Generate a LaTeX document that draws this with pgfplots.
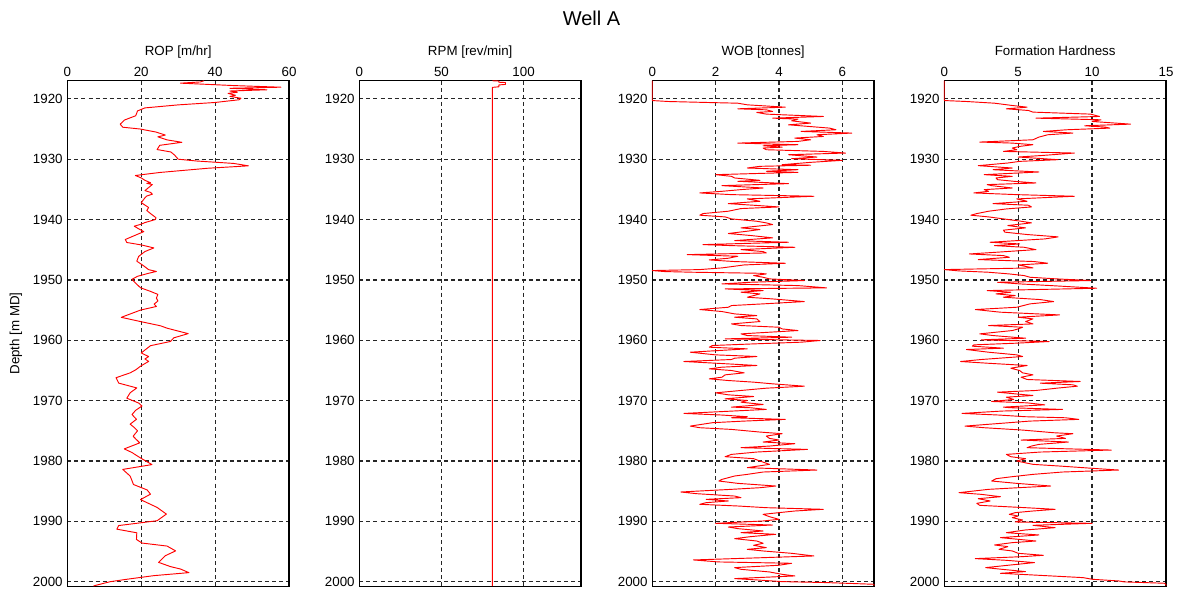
\documentclass[border=0pt]{standalone}
\usepackage{fontspec}
\setmainfont{Liberation Sans}
\usepackage{pgfplots}
\pgfplotsset{compat=1.18}

\pgfplotsset{
  welllog/.style={
    scale only axis,
    width=166.3pt, height=379.1pt,
    y dir=reverse,
    ymin=1917, ymax=2000.75,
    ytick={1920,1930,...,2000},
    xticklabel pos=upper,
    xticklabel style={anchor=base, yshift=3pt},
    /pgf/number format/assume math mode=true,
    /pgf/number format/1000 sep={},
    tick label style={font=\fontsize{10}{12}\selectfont},
    major tick length=0pt,
    grid=major,
    major grid style={black!85, line width=0.95pt, dash pattern=on 3pt off 2.3pt},
    axis line style={black, line width=0.9pt},
    every axis title/.style={at={(0.5,1)}, anchor=base, yshift=19pt,
      font=\fontsize{10}{12}\selectfont},
    clip=false,
  },
  logline/.style={red, line width=0.7pt, line join=round, mark=none},
}

\begin{document}
\begin{tikzpicture}
\path[use as bounding box] (0pt,0pt) rectangle (885pt,441.75pt);
\node[font=\fontsize{15}{18}\selectfont] at (443.6pt,427.7pt) {Well A};

% Rate of penetration
\begin{axis}[welllog, at={(50.5pt,2.1pt)}, anchor=south west,
  xmin=0, xmax=60, xtick={0,20,40,60},
  title={ROP [m/hr]},
  ylabel={Depth [m MD]},
  every axis y label/.style={at={(axis description cs:-0.232,0.5)}, anchor=center, rotate=90,
    font=\fontsize{10}{12}\selectfont}]
\addplot[logline] coordinates {
(37,1917.0) (36,1917.2) (30.6,1917.4) (45,1917.8) (57.8,1918.07) (44,1918.25) (54,1918.5)
(44,1918.7) (46,1918.9) (43.5,1919.1) (45.5,1919.4) (44,1919.6) (47,1919.9) (46.5,1920.15)
(40,1920.6) (30,1921.0) (21,1921.5) (19,1922.0) (18.5,1922.8) (15.5,1923.5) (14.3,1924.2)
(15,1924.7) (19.7,1925.0) (24,1925.5) (26.5,1926.0) (24.5,1926.3) (27,1926.8) (31,1927.2)
(25,1927.7) (24.3,1928.4) (28,1928.8) (29,1929.3) (30,1930.0) (35,1930.3) (45,1930.7)
(49,1931.1) (38,1931.5) (25,1932.2) (18.4,1932.7) (20,1933.1) (21,1933.5) (22.5,1933.9)
(21.5,1934.0) (23,1934.2) (22,1934.7) (21,1935.2) (22.5,1935.5) (23,1935.8) (21.5,1936.1)
(21,1936.4) (20.5,1936.8) (20,1937.2) (21,1937.6) (22,1938.0) (21.5,1938.5) (22.5,1939.0)
(24,1939.7) (23.8,1940.0) (21,1940.5) (19.8,1940.8) (18.1,1941.1) (19.5,1941.6)
(20.7,1942.0) (18,1942.7) (15.7,1943.3) (16.1,1943.8) (20,1944.2) (23.4,1944.7)
(21,1945.3) (19.3,1946.1) (18.8,1946.9) (20.5,1947.6) (22,1948.3) (24.1,1948.6) (22,1948.9)
(19,1949.4) (17.5,1949.9) (18.4,1950.5) (19.8,1951.3) (22.5,1951.9) (24.5,1952.4)
(24.1,1953.0) (24.5,1953.5) (23.5,1954.0) (24.1,1954.4) (19.8,1955.0) (14.6,1956.2)
(19.8,1956.9) (25.2,1957.6) (27,1958.0) (29.5,1958.4) (32.7,1958.9) (28.8,1959.6)
(27.9,1960.2) (22.5,1960.9) (20,1962.1) (22,1962.7) (21,1963.1) (22,1963.5) (19.8,1964.3)
(18.5,1964.9) (17,1965.4) (13.2,1966.2) (13.9,1967.1) (18.8,1967.9) (17,1968.7)
(16.1,1969.6) (19.3,1970.4) (20.2,1970.9) (18.5,1971.6) (17.5,1972.3) (18.7,1973.1)
(17,1973.9) (18,1974.4) (19,1975.0) (17.8,1975.9) (18.6,1976.4) (19.6,1977.0) (15.4,1978.0)
(17.5,1978.6) (18.5,1979.0) (19.8,1979.5) (22.9,1980.6) (15,1981.4) (17,1982.5)
(17.9,1983.9) (21.6,1984.8) (22.5,1985.5) (19.8,1986.4) (24.3,1987.7) (26.8,1988.8)
(24.3,1989.9) (13.9,1990.7) (13.4,1991.3) (18.8,1991.9) (18.7,1993.0) (20.2,1993.6)
(27,1994.1) (29.3,1994.9) (26.5,1995.7) (24.7,1996.8) (27.9,1997.5) (30.6,1997.9)
(32.9,1998.5) (23.4,1999.0) (16.1,1999.6) (11.6,2000.0) (7.1,2000.7)
};
\end{axis}

% Rotary speed
\begin{axis}[welllog, at={(269.5pt,2.1pt)}, anchor=south west,
  xmin=0, xmax=135, xtick={0,50,100},
  title={RPM [rev/min]}]
\addplot[logline] coordinates {
(81,1917.0) (85,1917.05) (85,1917.25) (89,1917.3) (89,1917.6) (85,1917.7) (85,1918.0)
(81,1918.1) (81,2000.75)
};
\end{axis}

% Weight on bit
\begin{axis}[welllog, at={(489.2pt,2.1pt)}, anchor=south west,
  xmin=0, xmax=7, xtick={0,2,4,6},
  title={WOB [tonnes]}]
\addplot[logline] coordinates {
(0,1917.0) (0,1920.0) (0,1920.28) (0.5,1920.44) (1.8,1920.61) (2.7,1920.72) (3.0,1920.99)
(4.2,1921.38) (2.7,1921.65) (3.6,1921.82) (3.8,1922.09) (3.3,1922.25) (3.6,1922.53)
(5.4,1922.92) (3.8,1923.20) (4.6,1923.36) (4.4,1923.64) (5.0,1924.02) (4.3,1924.30)
(5.6,1924.85) (5.8,1925.12) (4.7,1925.40) (6.3,1925.67) (5.2,1925.95) (5.4,1926.23)
(4.5,1926.50) (5.0,1926.78) (4.6,1927.05) (2.7,1927.33) (4.6,1927.60) (3.5,1927.77)
(4.1,1928.0) (3.5,1928.15) (3.6,1928.43) (5.4,1928.71) (6.1,1928.98) (4.3,1929.26)
(5.2,1929.64) (4.4,1929.92) (6.0,1930.19) (5.0,1930.52) (4.1,1930.91) (5.0,1931.0)
(3.4,1931.18) (3.0,1931.46) (4.6,1931.74) (3.6,1932.0) (4.6,1932.18) (2.0,1932.56)
(2.5,1932.84) (2.6,1933.11) (3.4,1933.5) (2.7,1933.66) (4.3,1934.05) (2.2,1934.38)
(3.5,1934.77) (2.8,1935.04) (2.2,1935.32) (1.5,1935.59) (2.5,1935.87) (5.1,1936.14)
(3.0,1936.58) (3.4,1936.97) (2.4,1937.36) (3.2,1937.63) (4.0,1937.91) (2.8,1938.18)
(2.4,1938.62) (1.6,1939.01) (1.5,1939.28) (2.3,1939.56) (2.5,1939.89) (3.3,1940.28)
(3.6,1940.55) (3.8,1940.83) (2.8,1941.38) (3.4,1941.65) (3.0,1941.93) (2.4,1942.31)
(3.1,1942.64) (3.8,1943.03) (2.6,1943.49) (4.3,1943.76) (1.6,1944.15) (2.5,1944.32)
(4.5,1944.59) (2.8,1944.98) (3.5,1945.31) (3.6,1945.53) (1.1,1945.81) (2.7,1946.08)
(2.4,1946.41) (1.8,1946.69) (2.6,1946.96) (4.2,1947.24) (2.9,1947.52) (2.2,1948.01)
(1.5,1948.29) (0,1948.45) (0.4,1948.62) (1.3,1948.73) (3.4,1948.90) (3.6,1949.01)
(3.2,1949.28) (3.5,1949.56) (3.7,1949.83) (4.8,1950.11) (3.1,1950.39) (2.2,1950.66)
(4.6,1950.94) (5.5,1951.32) (2.3,1951.49) (3.5,1951.77) (2.8,1952.04) (3.4,1952.32)
(3.0,1952.87) (3.8,1953.15) (4.8,1953.59) (3.5,1953.97) (2.5,1954.25) (2.4,1954.53)
(1.5,1954.91) (2.2,1955.24) (2.6,1955.63) (3.3,1955.91) (2.6,1956.18) (3.3,1956.46)
(3.4,1956.90) (2.5,1957.29) (2.8,1957.56) (4.0,1957.84) (4.1,1958.12) (4.6,1958.39)
(2.8,1958.94) (3.0,1959.22) (4.4,1959.49) (2.3,1959.77) (5.3,1960.04) (4.7,1960.32)
(3.2,1960.60) (1.9,1960.87) (1.8,1961.15) (3.0,1961.42) (2.1,1961.70) (1.2,1961.98)
(2.0,1962.42) (3.3,1962.69) (2.6,1962.97) (2.5,1963.19) (1.0,1963.52) (2.0,1963.80)
(3.3,1964.18) (2.2,1964.46) (1.8,1964.74) (2.5,1965.01) (2.9,1965.40) (2.3,1965.73)
(2.2,1966.12) (1.8,1966.39) (2.4,1966.67) (3.2,1966.94) (3.8,1967.22) (4.8,1967.61)
(3.6,1967.94) (2.8,1968.32) (2.0,1968.71) (2.4,1969.04) (3.2,1969.32) (2.3,1969.70)
(3.0,1969.98) (2.8,1970.26) (3.5,1970.64) (2.5,1971.08) (3.1,1971.18) (3.6,1971.46)
(1.0,1972.12) (2.2,1972.39) (3.0,1972.67) (2.5,1972.84) (4.2,1973.11) (2.9,1973.39)
(1.9,1973.66) (1.2,1974.22) (1.5,1974.49) (2.5,1974.77) (3.4,1975.21) (4.1,1975.48)
(3.6,1975.87) (3.7,1976.26) (4.0,1976.53) (3.5,1976.86) (4.5,1977.14) (3.7,1977.53)
(2.8,1977.80) (4.9,1978.08) (3.3,1978.52) (2.5,1978.91) (2.3,1979.29) (3.2,1979.62)
(3.4,1980.01) (3.7,1980.56) (3.0,1981.11) (5.2,1981.50) (3.5,1981.83) (3.0,1982.22)
(2.6,1982.49) (2.2,1983.05) (2.1,1983.32) (2.7,1983.71) (3.9,1984.15) (3.4,1984.43)
(2.5,1984.70) (0.9,1985.14) (1.4,1985.42) (2.6,1985.81) (2.8,1986.08) (1.7,1986.36)
(2.4,1986.63) (1.7,1986.91) (1.5,1987.18) (2.7,1987.46) (3.6,1987.74) (5.4,1988.01)
(4.5,1988.29) (4.0,1988.56) (3.5,1988.84) (3.7,1989.23) (4.0,1989.67) (3.5,1989.94)
(2.0,1990.33) (3.8,1990.61) (2.4,1990.94) (2.7,1991.21) (3.5,1991.60) (2.8,1991.88)
(3.9,1992.15) (3.1,1992.54) (2.6,1992.87) (3.3,1993.26) (3.5,1993.64) (3.2,1993.97)
(3.6,1994.36) (3.0,1994.64) (3.5,1994.91) (4.4,1995.30) (5.1,1995.74) (3.5,1996.02)
(1.3,1996.40) (2.1,1996.73) (4.4,1996.95) (4.0,1997.28) (2.6,1997.67) (2.8,1997.95)
(3.7,1998.39) (4.1,1998.78) (4.5,1999.05) (2.6,1999.49) (3.3,1999.71) (4.1,1999.99)
(5.5,2000.15) (7.0,2000.43) (7.0,2000.71)
};
\end{axis}

% Formation hardness
\begin{axis}[welllog, at={(708.2pt,2.1pt)}, anchor=south west,
  xmin=0, xmax=15, xtick={0,5,10,15},
  title={Formation Hardness}]
\addplot[logline] coordinates {
(0,1917.0) (0,1920.0) (0,1920.28) (1.5,1920.44) (3.4,1920.72) (4.6,1921.10) (5.6,1921.38)
(4.2,1921.65) (5.7,1921.93) (6.0,1922.20) (9.9,1922.53) (10.5,1922.92) (6.2,1923.20)
(10.6,1923.47) (10.0,1923.75) (11.6,1924.02) (12.6,1924.19) (9.5,1924.46) (10.9,1924.68)
(11.2,1924.85) (8.3,1925.12) (6.7,1925.40) (8.7,1925.67) (7.0,1925.95) (6.4,1926.34)
(6.0,1926.78) (2.4,1927.16) (4.6,1927.33) (6.0,1927.60) (5.1,1927.88) (4.6,1928.15)
(4.9,1928.43) (4.0,1928.71) (8.8,1928.98) (6.7,1929.37) (5.0,1929.64) (7.7,1930.08)
(5.1,1930.36) (4.3,1930.63) (2.3,1931.07) (4.6,1931.46) (3.3,1931.74) (6.4,1932.12)
(2.7,1932.56) (4.6,1932.84) (3.5,1933.11) (3.6,1933.39) (4.7,1933.66) (6.2,1933.94)
(2.9,1934.21) (3.2,1934.38) (4.6,1934.77) (2.7,1935.04) (3.0,1935.32) (2.0,1935.59)
(4.9,1935.87) (8.8,1936.14) (4.9,1936.58) (5.6,1936.97) (3.3,1937.36) (5.7,1937.63)
(5.9,1937.91) (4.2,1938.24) (3.0,1938.62) (2.2,1939.01) (1.8,1939.28) (3.0,1939.56)
(4.0,1939.89) (5.2,1940.28) (5.9,1940.55) (4.3,1940.99) (5.5,1941.38) (4.0,1941.76)
(4.1,1942.09) (5.6,1942.48) (7.7,1942.87) (6.8,1943.21) (3.1,1943.76) (5.1,1944.04)
(3.4,1944.32) (5.4,1944.59) (6.2,1944.98) (3.5,1945.42) (1.7,1945.70) (4.0,1945.97)
(4.4,1946.25) (2.3,1946.63) (6.1,1946.96) (7.0,1947.24) (5.0,1947.52) (6.0,1948.01)
(0,1948.29) (1.0,1948.51) (3.0,1948.73) (4.4,1949.01) (5.4,1949.28) (5.8,1949.56)
(7.6,1949.83) (9.9,1950.11) (3.6,1950.39) (5.1,1950.66) (7.2,1950.94) (10.3,1951.38)
(2.9,1951.77) (4.5,1952.04) (3.5,1952.32) (4.8,1952.59) (4.0,1952.87) (6.5,1953.26)
(7.4,1953.59) (5.8,1953.97) (4.9,1954.53) (2.1,1954.91) (3.8,1955.35) (7.8,1955.80)
(5.0,1956.18) (6.0,1956.46) (5.5,1956.90) (6.0,1957.29) (3.0,1957.56) (5.3,1957.84)
(5.0,1958.12) (4.6,1958.39) (2.4,1958.94) (3.3,1959.22) (5.5,1959.66) (2.5,1959.93)
(7.1,1960.21) (4.8,1960.49) (2.0,1960.76) (1.9,1960.98) (4.0,1961.31) (1.5,1961.53)
(3.0,1961.98) (4.9,1962.42) (5.3,1962.69) (2.5,1963.19) (1.1,1963.52) (2.9,1963.80)
(5.6,1964.18) (4.5,1964.63) (5.1,1965.01) (5.3,1965.40) (6.0,1965.73) (5.2,1966.12)
(5.6,1966.50) (9.2,1966.83) (6.5,1967.11) (8.7,1967.38) (9.0,1967.61) (7.6,1967.94)
(6.2,1968.32) (3.6,1968.60) (4.8,1968.88) (6.0,1969.15) (4.2,1969.43) (4.7,1969.81)
(3.2,1970.14) (5.6,1970.37) (6.8,1970.70) (4.0,1971.08) (4.5,1971.18) (8.0,1971.46)
(3.9,1971.73) (1.2,1972.12) (3.7,1972.39) (5.5,1972.67) (8.2,1972.84) (9.1,1973.11)
(5.8,1973.39) (3.8,1973.77) (1.4,1974.22) (2.7,1974.49) (5.3,1974.88) (7.4,1975.32)
(8.7,1975.48) (7.6,1975.87) (8.2,1976.26) (5.2,1976.53) (8.4,1976.86) (6.4,1977.25)
(5.9,1977.53) (5.6,1977.80) (11.3,1978.19) (6.5,1978.52) (4.2,1978.91) (4.5,1979.29)
(5.5,1979.62) (4.9,1980.01) (6.0,1980.56) (7.8,1980.84) (10.4,1981.28) (11.8,1981.50)
(8.0,1981.83) (6.0,1982.22) (4.6,1982.60) (3.5,1982.94) (3.2,1983.32) (4.9,1983.71)
(7.2,1984.15) (5.0,1984.43) (3.0,1984.70) (1.0,1985.25) (2.5,1985.53) (3.8,1985.92)
(2.3,1986.25) (3.1,1986.63) (2.2,1987.02) (2.4,1987.35) (5.5,1987.74) (7.5,1988.01)
(6.0,1988.29) (4.8,1988.56) (4.4,1988.84) (5.0,1989.12) (4.6,1989.39) (5.3,1989.78)
(4.8,1990.11) (10.0,1990.33) (6.0,1990.66) (7.5,1991.05) (5.5,1991.43) (4.2,1991.88)
(6.4,1992.26) (3.8,1992.70) (5.0,1992.98) (6.2,1993.26) (4.6,1993.53) (3.4,1993.92)
(4.3,1994.19) (3.7,1994.64) (4.6,1994.91) (5.0,1995.30) (6.7,1995.63) (5.3,1995.85)
(2.1,1996.18) (4.2,1996.46) (6.1,1996.84) (4.5,1997.23) (2.8,1997.67) (3.9,1997.95)
(5.5,1998.33) (3.8,1998.61) (6.0,1998.89) (9.4,1999.33) (10.0,1999.60) (11.8,1999.88)
(12.2,2000.04) (14.9,2000.26) (15,2000.49) (15,2000.71)
};
\end{axis}
\end{tikzpicture}
\end{document}
